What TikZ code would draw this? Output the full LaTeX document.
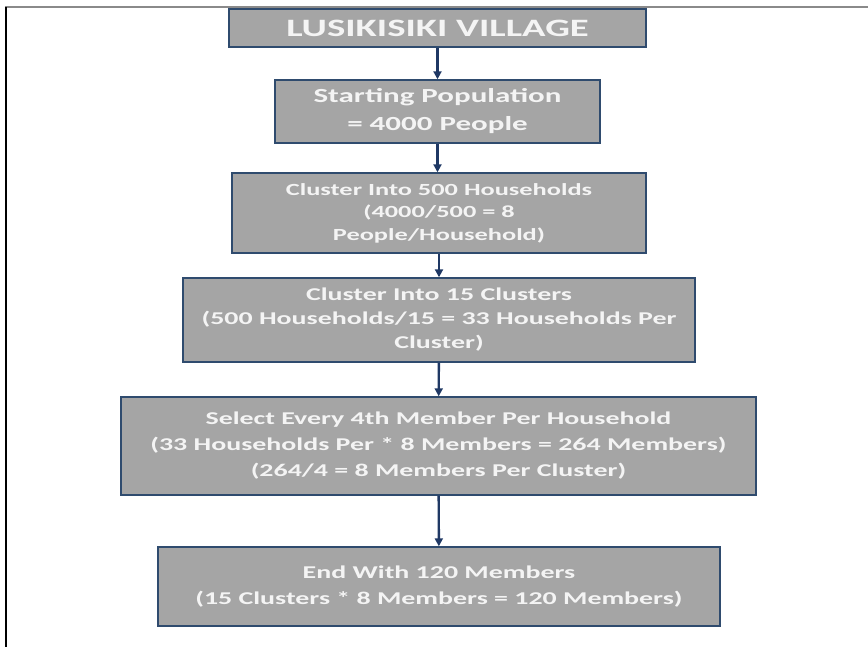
\documentclass[tikz,border=0pt]{standalone}
\usepackage{fontspec}
\usepackage{tikz}
\usetikzlibrary{arrows.meta,positioning}
\newfontfamily\boxfont[FakeStretch=1.55]{Carlito}
\definecolor{boxfill}{HTML}{A5A5A5}
\definecolor{boxedge}{HTML}{2F4B6E}
\definecolor{arrc}{HTML}{1F3864}
\definecolor{txtc}{HTML}{F4F4F4}
\definecolor{framec}{HTML}{8A8A8A}
\tikzset{
  box/.style={draw=boxedge,line width=1.4pt,fill=boxfill,align=center,text=txtc,inner sep=0pt},
  ar/.style={-{Triangle[length=8pt,width=8pt]},line width=2.4pt,arrc}
}

\begin{document}
\begin{tikzpicture}[x=1pt,y=-1pt]
\useasboundingbox (0,0) rectangle (868,647);
% page frame
\draw[framec,line width=2pt] (5,7)--(868,7);
\draw[black,line width=1.4pt] (6,7)--(6,647);
% steps
\node[box,minimum width=417pt,minimum height=38pt,font=\boxfont\bfseries\fontsize{25}{28}\selectfont] (village) at (437.5,28) {LUSIKISIKI VILLAGE};
\node[box,minimum width=325pt,minimum height=63pt,font=\boxfont\bfseries\fontsize{20}{28}\selectfont] (start) at (437.5,111.5) {Starting Population\\= 4000 People};
\node[box,minimum width=414pt,minimum height=80pt,font=\boxfont\bfseries\fontsize{17}{22.5}\selectfont] (house) at (439,213) {Cluster Into 500 Households\\(4000/500 = 8\\People/Household)};
\node[box,minimum width=512pt,minimum height=84pt,font=\boxfont\bfseries\fontsize{18}{24}\selectfont] (clust) at (439,320) {Cluster Into 15 Clusters\\(500 Households/15 = 33 Households Per\\Cluster)};
\node[box,minimum width=635pt,minimum height=98pt,font=\boxfont\bfseries\fontsize{18}{26}\selectfont] (select) at (438.5,446) {Select Every 4th Member Per Household\\(33 Households Per * 8 Members = 264 Members)\\(264/4 = 8 Members Per Cluster)};
\node[box,minimum width=562pt,minimum height=79pt,font=\boxfont\bfseries\fontsize{18}{26}\selectfont] (final) at (439,586.5) {End With 120 Members\\(15 Clusters * 8 Members = 120 Members)};
% arrows
\draw[ar] (village) -- (start);
\draw[ar] (start) -- (start|-house.north);
\draw[ar] (house) -- (clust);
\draw[ar] (clust) -- (select);
\draw[ar] (select) -- (final);
\end{tikzpicture}
\end{document}
